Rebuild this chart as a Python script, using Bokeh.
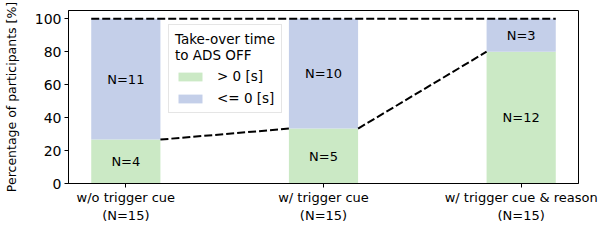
from bokeh.plotting import figure
from bokeh.models import ColumnDataSource, Legend, LegendItem, FixedTicker, Range1d
from bokeh.core.properties import value
from bokeh.embed import file_html
from bokeh.resources import INLINE

categories = ["w/o trigger cue\n(N=15)", "w/ trigger cue\n(N=15)", "w/ trigger cue & reason\n(N=15)"]
n_total = [15, 15, 15]
n_pos = [4, 5, 12]      # > 0 [s]
n_neg = [11, 10, 3]     # <= 0 [s]
y_ticks = [0, 20, 40, 60, 80, 100]

GREEN = "#cbe9c5"
BLUE = "#c4cfe9"
FONT = "DejaVu Sans"
W = 0.35

xs = list(range(len(categories)))
pos_pct = [p / t * 100 for p, t in zip(n_pos, n_total)]
neg_pct = [n / t * 100 for n, t in zip(n_neg, n_total)]

src = ColumnDataSource(dict(x=xs, pos=pos_pct, neg=neg_pct))

p = figure(width=600, height=225, output_backend="svg", toolbar_location=None,
           x_range=Range1d(-0.29, 2.29), y_range=Range1d(0, 105),
           min_border_left=68, min_border_right=22, min_border_top=10, min_border_bottom=37)
p.background_fill_color = "white"
p.border_fill_color = "white"
p.outline_line_color = "black"
p.outline_line_width = 1
p.xgrid.visible = False
p.ygrid.visible = False

rs = p.vbar_stack(["pos", "neg"], x="x", width=W, color=[GREEN, BLUE], source=src, line_width=0)

# dashed lines
top_x = [xs[0] - W / 2, xs[-1] + W / 2]
p.line(top_x, [100, 100], line_color="black", line_dash="8 3", line_width=2)
for i in range(len(xs) - 1):
    p.line([xs[i] + W / 2, xs[i + 1] - W / 2], [pos_pct[i], pos_pct[i + 1]],
           line_color="black", line_dash="8 3", line_width=2)

# labels
lab_x = xs + xs
lab_y = [v / 2 for v in pos_pct] + [pp + v / 2 for pp, v in zip(pos_pct, neg_pct)]
lab_t = [f"N={v}" for v in n_pos] + [f"N={v}" for v in n_neg]
p.text(x=lab_x, y=lab_y, text=lab_t, text_align="center", text_baseline="middle",
       text_font=value(FONT), text_font_size="13px", text_color="black")

# axes
p.xaxis.ticker = FixedTicker(ticks=xs)
p.xaxis.major_label_overrides = {i: c for i, c in enumerate(categories)}
p.yaxis.ticker = FixedTicker(ticks=y_ticks)
for ax in (p.xaxis[0], p.yaxis[0]):
    ax.major_label_text_font = FONT
    ax.major_label_text_color = "black"
    ax.major_tick_in = 0
    ax.major_tick_out = 4
    ax.minor_tick_in = 0
    ax.minor_tick_out = 0
    ax.axis_line_color = "black"
    ax.major_tick_line_color = "black"
p.xaxis.major_label_text_font_size = "13px"
p.yaxis.major_label_text_font_size = "14px"
p.yaxis.axis_label = "Percentage of participants [%]"
p.yaxis.axis_label_text_font = FONT
p.yaxis.axis_label_text_font_size = "12.5px"
p.yaxis.axis_label_text_font_style = "normal"
p.yaxis.axis_label_text_color = "black"
p.yaxis.axis_label_standoff = 13
p.yaxis.major_label_standoff = 3
p.xaxis.major_label_standoff = 2

legend = Legend(items=[LegendItem(label="> 0 [s]", renderers=[rs[0]]),
                       LegendItem(label="<= 0 [s]", renderers=[rs[1]])],
                title="Take-over time\nto ADS OFF", location=(100, 70))
legend.title_text_font = FONT
legend.title_text_font_size = "13.5px"
legend.title_text_font_style = "normal"
legend.title_text_color = "black"
legend.label_text_font = FONT
legend.label_text_font_size = "13.5px"
legend.label_text_color = "black"
legend.glyph_width = 30
legend.glyph_height = 11
legend.label_standoff = 12
legend.spacing = 6
legend.padding = 6
legend.margin = 0
legend.border_line_color = "#cccccc"
legend.background_fill_alpha = 0.8
p.add_layout(legend, "center")

open("out.html", "w").write(file_html(p, INLINE))
